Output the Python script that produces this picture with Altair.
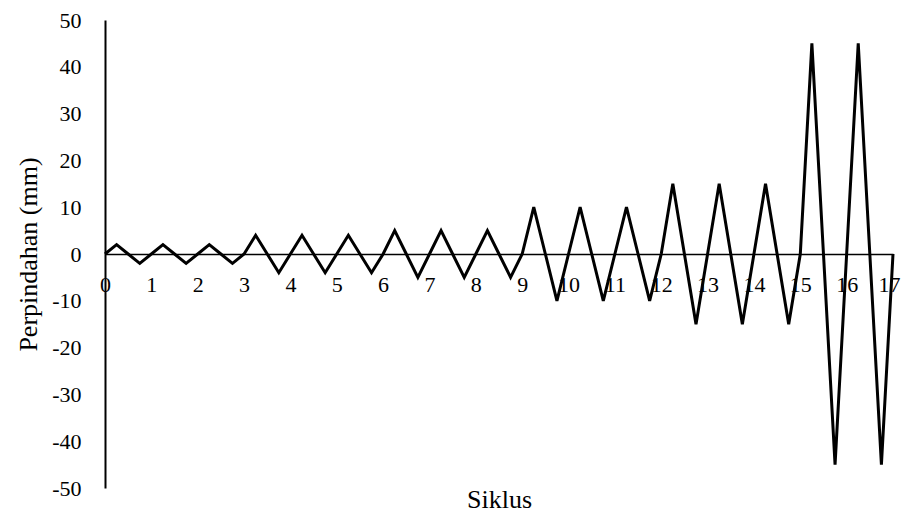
import altair as alt
import pandas as pd

# Cycle positions (x) and displacement values (mm)
siklus = [
    0, 0.25, 0.5, 0.75,
    1, 1.25, 1.5, 1.75,
    2, 2.25, 2.5, 2.75,
    3, 3.25, 3.5, 3.75,
    4, 4.25, 4.5, 4.75,
    5, 5.25, 5.5, 5.75,
    6, 6.25, 6.5, 6.75,
    7, 7.25, 7.5, 7.75,
    8, 8.25, 8.5, 8.75,
    9, 9.25, 9.5, 9.75,
    10, 10.25, 10.5, 10.75,
    11, 11.25, 11.5, 11.75,
    12, 12.25, 12.5, 12.75,
    13, 13.25, 13.5, 13.75,
    14, 14.25, 14.5, 14.75,
    15, 15.25, 15.5, 15.75,
    16, 16.25, 16.5, 16.75,
    17,
]
perpindahan = [
    0, 2, 0, -2,
    0, 2, 0, -2,
    0, 2, 0, -2,
    0, 4, 0, -4,
    0, 4, 0, -4,
    0, 4, 0, -4,
    0, 5, 0, -5,
    0, 5, 0, -5,
    0, 5, 0, -5,
    0, 10, 0, -10,
    0, 10, 0, -10,
    0, 10, 0, -10,
    0, 15, 0, -15,
    0, 15, 0, -15,
    0, 15, 0, -15,
    0, 45, 0, -45,
    0, 45, 0, -45,
    0,
]
x_ticks = list(range(0, 18))
y_ticks = list(range(-50, 51, 10))

df = pd.DataFrame({"Siklus": siklus, "Perpindahan": perpindahan})

FONT = "Liberation Serif"

chart = (
    alt.Chart(df)
    .mark_line(color="black", strokeWidth=3)
    .encode(
        x=alt.X(
            "Siklus:Q",
            scale=alt.Scale(domain=[0, 17], nice=False, zero=False),
            axis=alt.Axis(
                values=x_ticks,
                offset=-234,
                ticks=False,
                grid=False,
                domainColor="black",
                domainWidth=1.3,
                labelFont=FONT,
                labelFontSize=22,
                labelColor="black",
                labelPadding=20,
                labelFlush=False,
                labelOverlap=False,
                labelAlign={"condition": {"test": "datum.value == 17", "value": "right"}, "value": "center"},
                labelOffset={"condition": {"test": "datum.value == 17", "value": 7}, "value": 0},
                title="Siklus",
                titleFont=FONT,
                titleFontSize=26,
                titleFontWeight="normal",
                titleColor="black",
                titleBaseline="alphabetic",
                titleY=253,
                zindex=1,
            ),
        ),
        y=alt.Y(
            "Perpindahan:Q",
            scale=alt.Scale(domain=[-50, 50], nice=False),
            axis=alt.Axis(
                values=y_ticks,
                ticks=False,
                grid=False,
                domainColor="black",
                domainWidth=2,
                labelFont=FONT,
                labelFontSize=22,
                labelColor="black",
                labelPadding=24,
                labelOverlap=False,
                labelExpr="datum.value < 0 ? '-' + abs(datum.value) : '' + datum.value",
                title="Perpindahan (mm)",
                titleFont=FONT,
                titleFontSize=26,
                titleFontWeight="normal",
                titleColor="black",
                titlePadding=10,
            ),
        ),
    )
    .properties(
        width=788,
        height=468,
        autosize=alt.AutoSizeParams(type="none"),
        padding={"left": 97, "top": 12, "right": 8, "bottom": 26},
        background="white",
    )
    .configure_view(stroke=None)
)

chart.save("out.html", embed_options={"renderer": "svg", "actions": False})
